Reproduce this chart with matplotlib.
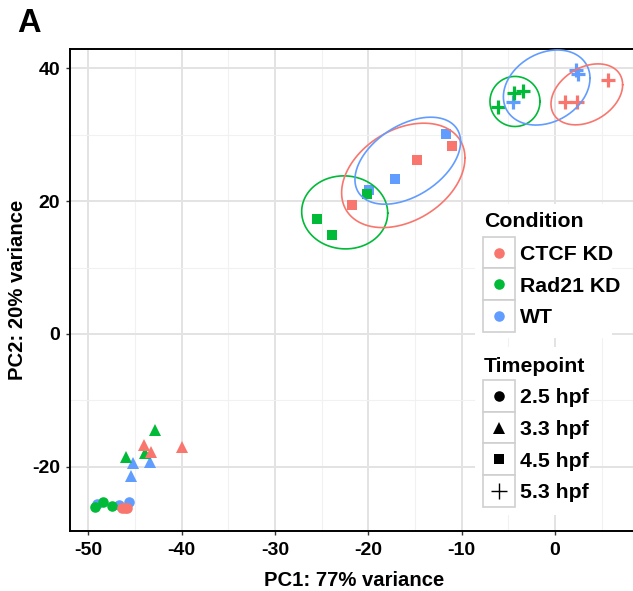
import numpy as np
import matplotlib
matplotlib.use("Agg")
import matplotlib.pyplot as plt
from matplotlib.patches import Rectangle
from matplotlib.lines import Line2D

# ---------------- data ----------------
conditions = ["CTCF KD", "Rad21 KD", "WT"]
timepoints = ["2.5 hpf", "3.3 hpf", "4.5 hpf", "5.3 hpf"]
condition_colors = ["#F8766D", "#00BA38", "#619CFF"]

# samples (drawn in this order)
sample_condition = (["WT"] * 12 + ["Rad21 KD"] * 12 + ["CTCF KD"] * 12)
sample_timepoint = (["2.5 hpf"] * 3 + ["3.3 hpf"] * 3 + ["4.5 hpf"] * 3 + ["5.3 hpf"] * 3) * 3
pc1 = [
    # WT
    -49.06, -46.70, -45.63,
    -45.26, -43.41, -45.44,
    -11.68, -17.12, -19.90,
    2.20, 2.50, -4.47,
    # Rad21 KD
    -48.41, -49.30, -47.45,
    -42.87, -43.94, -45.98,
    -20.18, -25.54, -23.87,
    -4.35, -3.40, -6.08,
    # CTCF KD
    -46.44, -46.10, -45.84,
    -44.05, -43.30, -39.95,
    -11.07, -14.76, -21.73,
    5.71, 1.07, 2.32,
]
pc2 = [
    # WT
    -25.65, -25.75, -25.26,
    -19.48, -19.23, -21.39,
    30.07, 23.34, 21.69,
    39.70, 39.20, 34.99,
    # Rad21 KD
    -25.26, -26.10, -25.90,
    -14.46, -17.87, -18.48,
    21.08, 17.27, 14.91,
    36.30, 36.60, 34.23,
    # CTCF KD
    -26.25, -26.25, -26.25,
    -16.72, -17.72, -16.97,
    28.31, 26.20, 19.43,
    38.25, 34.99, 34.99,
]

# confidence ellipses (center, half-width, half-height, skew) for later timepoints
ell_condition = ["Rad21 KD", "CTCF KD", "WT", "Rad21 KD", "WT", "CTCF KD"]
ell_timepoint = ["4.5 hpf", "4.5 hpf", "4.5 hpf", "5.3 hpf", "5.3 hpf", "5.3 hpf"]
ell_cx = [-22.54, -16.26, -15.78, -4.29, -0.89, 3.41]
ell_cy = [18.30, 23.87, 26.08, 35.00, 37.10, 36.07]
ell_hw = [4.61, 6.61, 5.66, 2.68, 4.64, 3.84]
ell_hh = [5.50, 7.86, 6.55, 3.77, 5.65, 4.59]
ell_skew = [-0.02, 0.34, 0.45, 0.0, 0.25, 0.32]

x_ticks = [-50, -40, -30, -20, -10, 0]
y_ticks = [-20, 0, 20, 40]

# ---------------- figure ----------------
W, H = 633, 591
fig = plt.figure(figsize=(W / 100, H / 100), dpi=100)
FONT = "Liberation Sans"
plt.rcParams["font.family"] = [FONT, "DejaVu Sans"]

def fx(px):
    return px / W

def fy(py):
    return 1 - py / H

ax_left, ax_right, ax_top, ax_bottom = 70, 633, 49, 530.5
ax = fig.add_axes([fx(ax_left), fy(ax_bottom), fx(ax_right) - fx(ax_left), fy(ax_top) - fy(ax_bottom)])
ax.set_xlim(-51.98, 8.36)
ax.set_ylim(-29.6, 42.9)

# grid
for v in np.arange(-55, 10, 5):
    major = v in x_ticks
    ax.axvline(v, color="#E3E3E3" if major else "#F1F1F1", lw=1.4 if major else 0.8, zorder=0)
for v in np.arange(-30, 50, 10):
    major = v in y_ticks
    ax.axhline(v, color="#E3E3E3" if major else "#F1F1F1", lw=1.4 if major else 0.8, zorder=0)

markers = {"2.5 hpf": "o", "3.3 hpf": "^", "4.5 hpf": "s", "5.3 hpf": "+"}
msizes = {"2.5 hpf": 7.6, "3.3 hpf": 8.6, "4.5 hpf": 7.2, "5.3 hpf": 9.8}
cmap = dict(zip(conditions, condition_colors))

for c, t, x, y in zip(sample_condition, sample_timepoint, pc1, pc2):
    m = markers[t]
    if m == "+":
        ax.plot([x], [y], marker=m, ms=msizes[t], mew=2.3, color=cmap[c], ls="none", zorder=3)
    else:
        ax.plot([x], [y], marker=m, ms=msizes[t], mew=0, color=cmap[c], ls="none", zorder=3)

tt = np.linspace(0, 2 * np.pi, 200)
for c, t, cx, cy, hw, hh, sk in zip(ell_condition, ell_timepoint, ell_cx, ell_cy, ell_hw, ell_hh, ell_skew):
    ax.plot(cx + hw * np.cos(tt), cy + hh * np.sin(tt + sk), color=cmap[c], lw=1.2, zorder=4)

# spines / ticks
for s in ["top", "left", "bottom"]:
    ax.spines[s].set_linewidth(1.4)
    ax.spines[s].set_color("black")
ax.spines["right"].set_visible(False)
ax.set_xticks(x_ticks)
ax.set_yticks(y_ticks)
ax.set_xticklabels([str(v) for v in x_ticks])
ax.set_yticklabels([str(v) for v in y_ticks])
ax.tick_params(axis="both", length=3, width=1, color="#333333", labelsize=14)
ax.tick_params(axis="x", pad=5.0)
ax.tick_params(axis="y", pad=4.0)
for lab in ax.get_xticklabels() + ax.get_yticklabels():
    lab.set_fontweight("bold")
    lab.set_color("black")

fig.text(fx(354), fy(586), "PC1: 77% variance", ha="center", va="baseline",
         fontsize=14.6, fontweight="bold")
fig.text(fx(18), fy(290), "PC2: 20% variance", ha="center", va="center", rotation=90,
         fontsize=14.6, fontweight="bold")
fig.text(fx(17.5), fy(32), "A", ha="left", va="baseline", fontsize=23.5, fontweight="bold")

# ---------------- legends (drawn manually) ----------------
def rect(x0, y0, x1, y1, **kw):
    r = Rectangle((fx(x0), fy(y1)), fx(x1) - fx(x0), fy(y0) - fy(y1), transform=fig.transFigure, **kw)
    fig.add_artist(r)

key_x0, key_x1 = 482.7, 515
lab_x = 519.5
LFS = 15.3

# Condition legend
rect(475, 204, 612, 338, facecolor="white", edgecolor="none", zorder=5)
fig.text(fx(484), fy(227), "Condition", ha="left", va="baseline", fontsize=LFS, fontweight="bold", zorder=6)
cond_y0 = 236.7
for i, (c, col) in enumerate(zip(conditions, condition_colors)):
    y0 = cond_y0 + i * 31.65
    y1 = y0 + 31.65
    rect(key_x0, y0, key_x1, y1, facecolor="white", edgecolor="#CFCFCF", lw=1.2, zorder=6)
    fig.add_artist(Line2D([fx((key_x0 + key_x1) / 2)], [fy((y0 + y1) / 2)], marker="o", ms=7.6,
                          mew=0, color=col, transform=fig.transFigure, zorder=7))
    fig.text(fx(lab_x), fy((y0 + y1) / 2), c, ha="left", va="center_baseline", fontsize=LFS,
             fontweight="bold", zorder=7)

# Timepoint legend
rect(475, 347, 590, 515, facecolor="white", edgecolor="none", zorder=5)
fig.text(fx(484), fy(371.7), "Timepoint", ha="left", va="baseline", fontsize=LFS, fontweight="bold", zorder=6)
tp_y0 = 380
for i, t in enumerate(timepoints):
    y0 = tp_y0 + i * 31.68
    y1 = y0 + 31.68
    rect(key_x0, y0, key_x1, y1, facecolor="white", edgecolor="#CFCFCF", lw=1.2, zorder=6)
    m = markers[t]
    if m == "+":
        fig.add_artist(Line2D([fx((key_x0 + key_x1) / 2)], [fy((y0 + y1) / 2)], marker="+", ms=11,
                              mew=1.0, color="black", transform=fig.transFigure, zorder=7))
    else:
        fig.add_artist(Line2D([fx((key_x0 + key_x1) / 2)], [fy((y0 + y1) / 2)], marker=m, ms=msizes[t],
                              mew=0, color="black", transform=fig.transFigure, zorder=7))
    fig.text(fx(lab_x), fy((y0 + y1) / 2), t, ha="left", va="center_baseline", fontsize=LFS,
             fontweight="bold", zorder=7)

fig.savefig("out.png", dpi=100)
